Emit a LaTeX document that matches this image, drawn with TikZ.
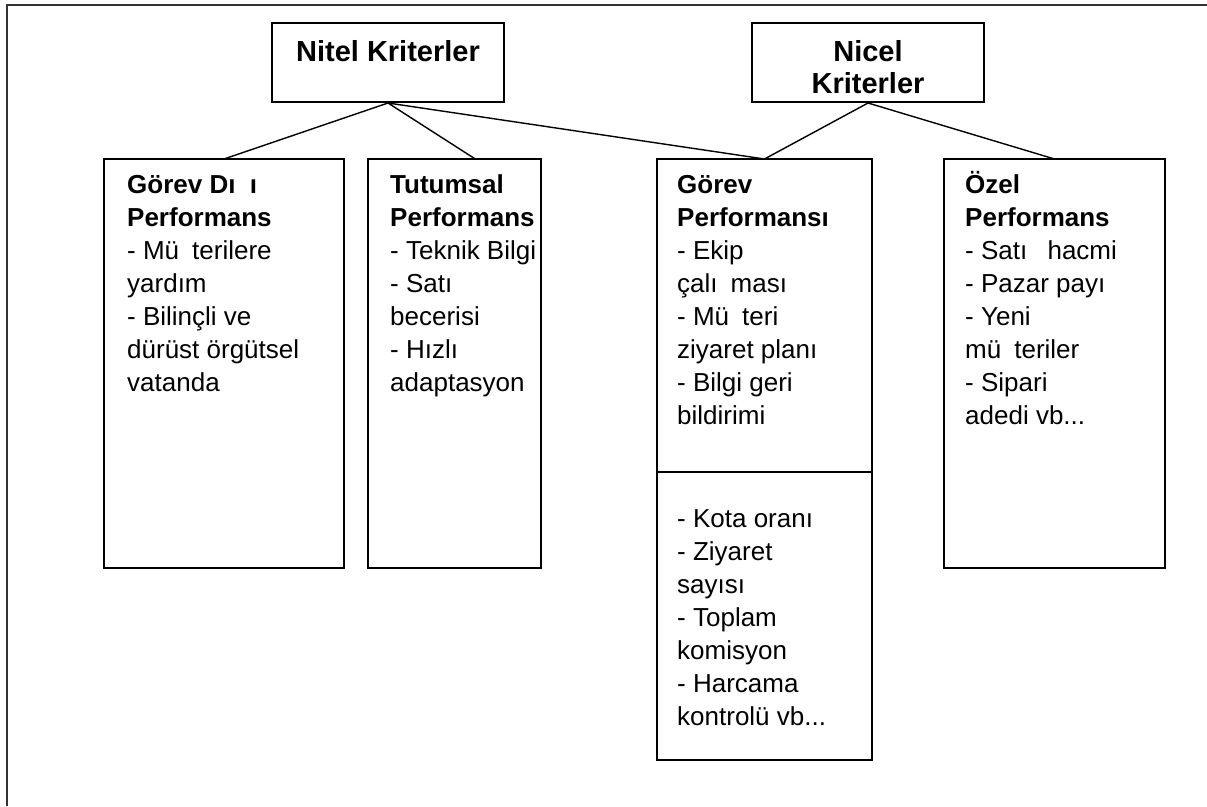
\documentclass[tikz,border=0pt]{standalone}
\usepackage{fontspec}
\setmainfont{Liberation Sans}
\usetikzlibrary{calc}

\newcommand{\eksik}{\phantom{ş}}

\begin{document}
\begin{tikzpicture}[x=1pt,y=-1pt,
    head node/.style={draw,line width=2pt,minimum width=232pt,minimum height=79pt,inner sep=0pt},
    perf node/.style={draw,line width=2pt,anchor=north west,inner sep=0pt,outer sep=0pt},
    head text/.style={anchor=base,inner sep=0pt,font=\bfseries\fontsize{29}{32}\selectfont},
    item text/.style={anchor=base west,inner sep=0pt,font=\fontsize{26}{33}\selectfont},
    link/.style={line width=1.4pt}]

  \useasboundingbox (0,0) rectangle (1207,806);
  \draw[line width=2pt,black!80] (1207,5) -- (7,5) -- (7,806);

  % kriterler
  \node[head node] (nitel) at (388,62.5) {};
  \node[head node] (nicel) at (868,62.5) {};
  \node[head text] (niteltxt) at ($(nitel.north)+(0,39)$) {Nitel Kriterler};
  \node[head text] (niceltxt) at ($(nicel.north)+(0,39)$) {\parbox[t]{200pt}{\centering Nicel\\Kriterler}};

  % performans kutulari
  \node[perf node,minimum width=240pt,minimum height=409pt] (disi) at (104,159) {};
  \node[perf node,minimum width=173pt,minimum height=409pt] (tutum) at (368,159) {};
  \node[perf node,minimum width=215pt,minimum height=313pt] (gorev) at (657,159) {};
  \node[perf node,minimum width=215pt,minimum height=288pt] (gorevalt) at (gorev.south west) {};
  \node[perf node,minimum width=221pt,minimum height=409pt] (ozel) at (944,159) {};

  \node[item text] (disitxt) at ($(disi.north west)+(23,34)$) {\parbox[t]{215pt}{%
    \textbf{Görev Dı\eksik ı}\\\textbf{Performans}\\- Mü\eksik terilere\\yardım\\- Bilinçli ve\\dürüst örgütsel\\vatanda}};
  \node[item text] (tutumtxt) at ($(tutum.north west)+(22,34)$) {\parbox[t]{150pt}{%
    \textbf{Tutumsal}\\\textbf{Performans}\\- Teknik Bilgi\\- Satı\\becerisi\\- Hızlı\\adaptasyon}};
  \node[item text] (gorevtxt) at ($(gorev.north west)+(20,34)$) {\parbox[t]{190pt}{%
    \textbf{Görev}\\\textbf{Performansı}\\- Ekip\\çalı\eksik ması\\- Mü\eksik teri\\ziyaret planı\\- Bilgi geri\\bildirimi}};
  \node[item text] (gorevalttxt) at ($(gorevalt.north west)+(20,55)$) {\parbox[t]{190pt}{%
    - Kota oranı\\- Ziyaret\\sayısı\\- Toplam\\komisyon\\- Harcama\\kontrolü vb...}};
  \node[item text] (ozeltxt) at ($(ozel.north west)+(21,34)$) {\parbox[t]{195pt}{%
    \textbf{Özel}\\\textbf{Performans}\\- Satı\eksik\ hacmi\\- Pazar payı\\- Yeni\\mü\eksik teriler\\- Sipari\\adedi vb...}};

  \draw[link] (nitel.south) -- (disi.north)
    (nitel.south) -- ($(tutum.north west)!0.62!(tutum.north east)$)
    (nitel.south) -- (gorev.north)
    (nicel.south) -- (gorev.north)
    (nicel.south) -- (ozel.north);

\end{tikzpicture}
\end{document}
